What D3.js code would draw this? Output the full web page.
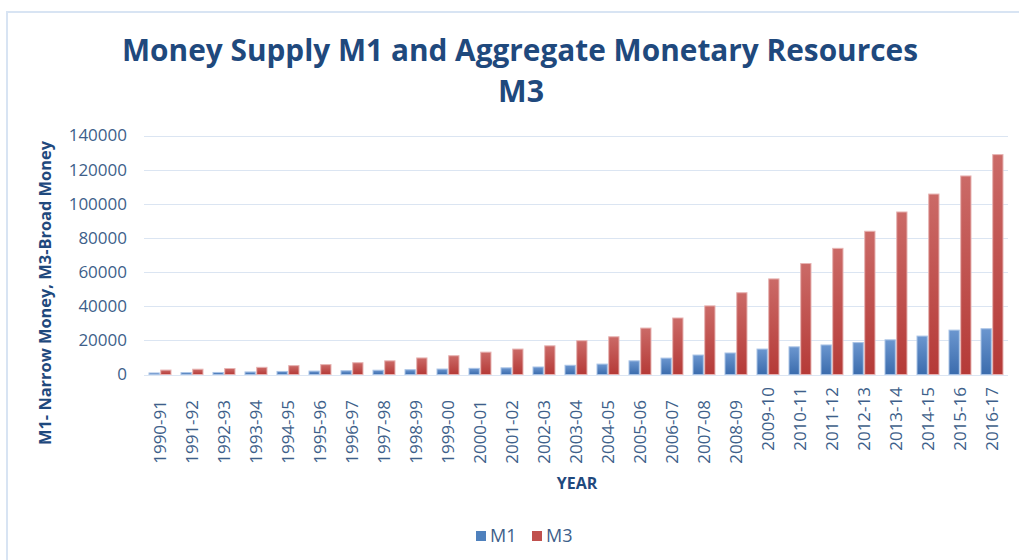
<!DOCTYPE html>
<html>
<head>
<meta charset="utf-8">
<title>Money Supply M1 and M3</title>
<style>
  body { margin: 0; background: #fff; }
  .axis text { font-family: "Open Sans", sans-serif; fill: #3e5f8a; }
  .grid line { stroke: #dbe5f2; stroke-width: 1.5; shape-rendering: crispEdges; }
</style>
</head>
<body>
<script src="https://cdnjs.cloudflare.com/ajax/libs/d3/7.8.5/d3.min.js"></script>
<script>
// data
var years = ["1990-91","1991-92","1992-93","1993-94","1994-95","1995-96","1996-97","1997-98",
  "1998-99","1999-00","2000-01","2001-02","2002-03","2003-04","2004-05","2005-06","2006-07",
  "2007-08","2008-09","2009-10","2010-11","2011-12","2012-13","2013-14","2014-15","2015-16","2016-17"];
var m1 = [900,1100,1200,1500,1800,2000,2200,2500,2800,3200,3600,3900,4400,5400,6100,8000,
  9600,11400,12600,14900,16200,17300,18700,20300,22500,26000,26800];
var m3 = [2600,3100,3500,4200,5200,5800,6900,8000,9700,11000,13100,14900,16800,19800,22100,
  27200,33100,40200,47900,56000,65000,73900,83900,95200,105700,116300,128800];
var seriesNames = ["M1", "M3"];
var yTicks = [0,20000,40000,60000,80000,100000,120000,140000];

var W = 1019, H = 560;
var svg = d3.select("body").append("svg")
  .attr("width", W).attr("height", H);

// gradients for the bars
var defs = svg.append("defs");
function grad(id, top, bottom) {
  var g = defs.append("linearGradient").attr("id", id)
    .attr("x1", 0).attr("y1", 0).attr("x2", 0).attr("y2", 1);
  g.append("stop").attr("offset", "0%").attr("stop-color", top);
  g.append("stop").attr("offset", "100%").attr("stop-color", bottom);
}
grad("gM1", "#6b96cf", "#3b6cad");
grad("gM3", "#cb6a67", "#b53a37");
var fills = {M1: "url(#gM1)", M3: "url(#gM3)"};
var strokes = {M1: "#a9c3e6", M3: "#e7b3b2"};
var solid = {M1: "#4f81bd", M3: "#c0504d"};

// chart frame
svg.append("path")
  .attr("d", "M7,560 V12 H1019")
  .attr("fill", "none").attr("stroke", "#d8e4f3").attr("stroke-width", 2);

// title
var title = svg.append("g").attr("font-family", "'Open Sans', sans-serif")
  .attr("font-weight", "bold").attr("fill", "#1f497d").attr("text-anchor", "middle");
title.append("text").attr("x", 520).attr("y", 61).attr("font-size", 30)
  .attr("textLength", 796).attr("lengthAdjust", "spacingAndGlyphs")
  .text("Money Supply M1 and Aggregate Monetary Resources");
title.append("text").attr("x", 521).attr("y", 102).attr("font-size", 30)
  .attr("textLength", 46).attr("lengthAdjust", "spacingAndGlyphs")
  .text("M3");

// scales
var x = d3.scaleBand().domain(years).range([144, 1008]).padding(0);
var xs = d3.scaleBand().domain(seriesNames).range([5, 27]).paddingInner(0.12);
var y = d3.scaleLinear().domain([0, 140000]).range([374.5, 135.5]);

// gridlines
svg.append("g").attr("class", "grid")
  .selectAll("line").data(yTicks).enter().append("line")
  .attr("x1", 144).attr("x2", 1008)
  .attr("y1", function(d){ return Math.round(y(d)) + 0.5; })
  .attr("y2", function(d){ return Math.round(y(d)) + 0.5; });

// y axis labels
var yAxis = svg.append("g").attr("class", "axis")
  .attr("transform", "translate(141,0)")
  .call(d3.axisLeft(y).tickValues(yTicks).tickSize(0).tickPadding(14).tickFormat(d3.format("d")));
yAxis.select(".domain").remove();
yAxis.selectAll("text").attr("font-size", 17);

// bars
var rows = years.map(function(yr, i){ return {year: yr, M1: m1[i], M3: m3[i]}; });
var groups = svg.append("g").selectAll("g").data(rows).enter().append("g")
  .attr("transform", function(d){ return "translate(" + x(d.year) + ",0)"; });
groups.selectAll("rect")
  .data(function(d){ return seriesNames.map(function(k){ return {key: k, value: d[k]}; }); })
  .enter().append("rect")
  .attr("x", function(d){ return xs(d.key); })
  .attr("width", xs.bandwidth())
  .attr("y", function(d){ return y(d.value); })
  .attr("height", function(d){ return y(0) - y(d.value); })
  .attr("fill", function(d){ return fills[d.key]; })
  .attr("stroke", function(d){ return strokes[d.key]; })
  .attr("stroke-width", 1);

// x axis labels (rotated)
var xAxis = svg.append("g").attr("class", "axis")
  .attr("transform", "translate(0,375)")
  .call(d3.axisBottom(x).tickSize(0));
xAxis.select(".domain").remove();
xAxis.selectAll("text")
  .attr("font-size", 17)
  .style("text-anchor", "end")
  .attr("transform", function(d, i){
    var top = i >= 19 ? 12 : 25;
    return "translate(6," + top + ") rotate(-90)";
  })
  .attr("x", 0).attr("y", 0).attr("dy", 0);

// axis titles
svg.append("text")
  .attr("transform", "translate(51,293) rotate(-90)")
  .attr("text-anchor", "middle")
  .attr("font-family", "'Open Sans', sans-serif").attr("font-weight", "bold")
  .attr("font-size", 16).attr("fill", "#1f497d")
  .attr("textLength", 304).attr("lengthAdjust", "spacingAndGlyphs")
  .text("M1- Narrow Money, M3-Broad Money");
svg.append("text")
  .attr("x", 577).attr("y", 489)
  .attr("text-anchor", "middle")
  .attr("font-family", "'Open Sans', sans-serif").attr("font-weight", "bold")
  .attr("font-size", 16).attr("fill", "#1f497d")
  .text("YEAR");

// legend
var legend = svg.append("g").selectAll("g").data(seriesNames).enter().append("g")
  .attr("transform", function(d, i){ return "translate(" + (476 + i * 56) + ",531)"; });
legend.append("rect").attr("width", 10).attr("height", 10)
  .attr("fill", function(d){ return solid[d]; });
legend.append("text").attr("x", 14).attr("y", 11)
  .attr("font-family", "'Open Sans', sans-serif").attr("font-size", 18)
  .attr("fill", "#3e5f8a")
  .text(function(d){ return d; });
</script>
</body>
</html>
